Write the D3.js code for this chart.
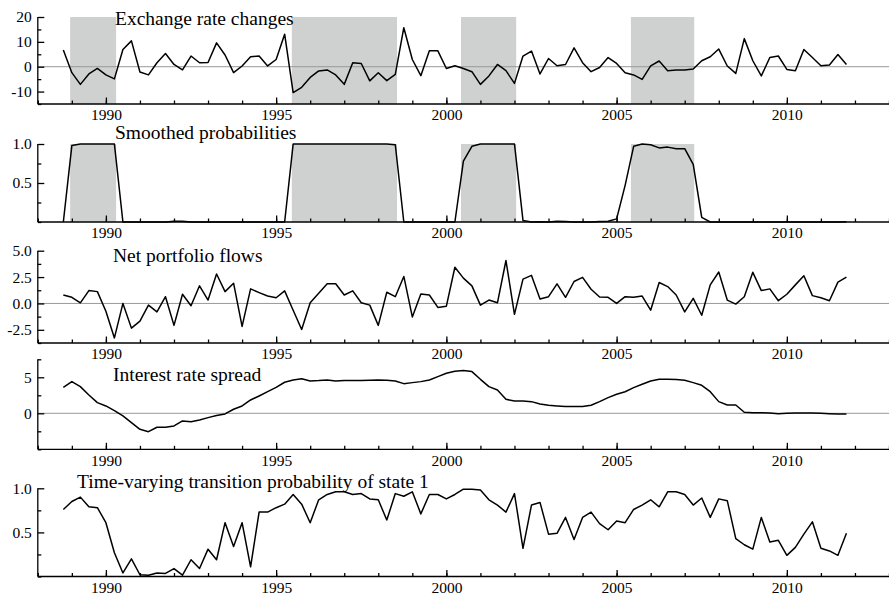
<!DOCTYPE html>
<html><head><meta charset="utf-8">
<script src="https://cdn.jsdelivr.net/npm/d3@7"></script>
<style>
html,body{margin:0;padding:0;background:#fff;}
svg{display:block;}
text{font-family:"Liberation Serif","Times New Roman",serif !important;fill:#000;}
</style></head>
<body><svg id="c" width="889" height="597"></svg>
<script>
// ---------- data ----------
const firstQuarter = 1988.75;   // 1988 Q4
const quarterStep = 0.25;
const exchangeRate = [6.7,-2.4,-7.1,-2.9,-0.7,-3.3,-4.9,6.9,10.4,-2.1,-3.3,1.6,5.3,0.9,-1.3,4.3,1.6,1.7,9.6,4.7,-2.4,0.3,4.0,4.3,0.3,2.9,13.1,-10.4,-8.3,-4.3,-1.7,-1.3,-3.3,-7.1,1.6,1.3,-5.7,-2.4,-5.6,-3.1,15.7,2.9,-3.6,6.4,6.4,-0.7,0.4,-0.7,-2.0,-7.1,-3.7,0.9,-1.6,-6.7,4.3,6.3,-2.9,3.3,0.4,0.9,7.6,1.6,-2.0,-0.3,3.7,1.3,-2.4,-3.3,-5.1,0.3,2.3,-1.6,-1.3,-1.3,-0.9,2.4,4.0,7.1,0.3,-2.7,11.3,2.4,-3.7,3.7,4.3,-1.1,-1.6,6.9,3.7,0.4,0.7,4.9,0.9];
const smoothedProb = [0,0.98,1,1,1,1,1,0,0,0,0,0,0,0.01,0.01,0,0,0,0,0,0,0,0,0,0,0,0,1,1,1,1,1,1,1,1,1,1,1,1,0.99,0,0,0,0,0,0,0,0.78,0.97,1,1,1,1,1,0.02,0,0.004,0,0.01,0.005,0,0,0,0.005,0.01,0.04,0.47,0.97,1,0.99,0.95,0.96,0.94,0.94,0.74,0.06,0,0,0,0,0,0,0,0,0,0,0,0,0,0,0,0,0.003];
const netPortfolio = [0.8,0.58,0.06,1.22,1.12,-0.74,-3.27,0,-2.34,-1.67,-0.16,-0.8,0.64,-2.08,0.87,-0.22,1.67,0.32,2.79,1.12,1.92,-2.18,1.38,1.03,0.7,0.54,1.19,-0.64,-2.47,0.06,0.96,1.86,1.86,0.8,1.19,0.06,-0.16,-2.08,1.06,0.64,2.56,-1.28,0.9,0.8,-0.38,-0.26,3.43,2.4,1.67,-0.16,0.32,0.06,4.07,-1.03,2.31,2.66,0.42,0.64,1.86,0.58,2.08,2.47,1.35,0.61,0.58,0,0.64,0.58,0.7,-0.64,1.99,1.6,0.8,-0.8,0.48,-1.12,1.76,2.98,0.32,-0.06,0.64,2.95,1.22,1.38,0.26,0.87,1.76,2.63,0.74,0.54,0.26,2.02,2.5];
const rateSpread = [3.61,4.4,3.7,2.55,1.48,1.02,0.37,-0.37,-1.3,-2.22,-2.55,-1.94,-1.94,-1.76,-1.06,-1.16,-0.93,-0.6,-0.32,-0.09,0.56,1.02,1.85,2.41,3.0,3.61,4.31,4.63,4.81,4.49,4.54,4.63,4.49,4.54,4.54,4.54,4.58,4.63,4.58,4.49,4.12,4.26,4.4,4.63,5.09,5.56,5.83,5.93,5.79,4.72,3.7,3.24,1.94,1.71,1.71,1.62,1.3,1.11,1.02,0.93,0.93,0.93,1.11,1.62,2.18,2.64,3.0,3.56,4.03,4.49,4.72,4.72,4.68,4.58,4.26,3.89,3.0,1.62,1.16,1.16,0.14,0.09,0.09,0.05,-0.05,0,0.05,0.05,0.05,0,-0.05,-0.09,-0.09];
const transProb = [0.76,0.85,0.9,0.79,0.78,0.61,0.27,0.04,0.2,0.02,0.015,0.04,0.035,0.09,0.015,0.19,0.09,0.31,0.19,0.61,0.34,0.61,0.11,0.73,0.73,0.78,0.82,0.93,0.82,0.61,0.87,0.93,0.96,0.96,0.93,0.94,0.88,0.87,0.64,0.94,0.91,0.96,0.71,0.93,0.93,0.88,0.93,0.99,0.99,0.98,0.87,0.81,0.73,0.94,0.32,0.81,0.84,0.48,0.49,0.67,0.42,0.67,0.73,0.6,0.53,0.63,0.61,0.76,0.81,0.87,0.79,0.96,0.96,0.93,0.81,0.89,0.67,0.88,0.86,0.43,0.36,0.31,0.67,0.39,0.41,0.24,0.33,0.48,0.62,0.32,0.29,0.24,0.49];
const regimes = [[1988.95,1990.3],[1995.46,1998.55],[2000.43,2002.05],[2005.42,2007.28]];
const xMajorTicks = [1990,1995,2000,2005,2010];
const xMinorTicks = d3.range(1988,2014,1);

const titles = ["Exchange rate changes","Smoothed probabilities","Net portfolio flows","Interest rate spread","Time-varying transition probability of state 1"];
const yMajor = [[20,10,0,-10],[1.0,0.5],[5.0,2.5,0.0,-2.5],[5,0],[1.0,0.5]];
const yMajorLabels = [["20","10","0","-10"],["1.0","0.5"],["5.0","2.5","0.0","-2.5"],["5","0"],["1.0","0.5"]];
const yMinor = [[15,5,-5,-15],[0.75,0.25,0],[3.75,1.25,-1.25,-3.75],[7.5,2.5,-2.5,-5],[0.75,0.25,0]];
const yDomains = [[-15,20],[0,1],[-3.75,5],[-5,7.5],[0,1]];

// ---------- layout ----------
const W = 889, left = 37.8;
const panels = [
  {top:17,   bottom:104,   zero:true,  shade:true,  titleX:115, titleY:25},
  {top:144,  bottom:222,   zero:false, shade:true,  titleX:115, titleY:139},
  {top:250.7,bottom:343,   zero:true,  shade:false, titleX:113, titleY:261.5},
  {top:359.3,bottom:449.3, zero:true,  shade:false, titleX:113, titleY:380.5},
  {top:488.3,bottom:576.5, zero:false, shade:false, titleX:77,  titleY:488}
];
const seriesList = [exchangeRate, smoothedProb, netPortfolio, rateSpread, transProb];

const svg = d3.select("#c");
const x = d3.scaleLinear().domain([1988,2013]).range([left, W]);
const dates = exchangeRate.map((_,i)=>firstQuarter + quarterStep*i);

panels.forEach((p,k)=>{
  const y = d3.scaleLinear().domain(yDomains[k]).range([p.bottom, p.top]);
  const g = svg.append("g");
  if (p.shade) {
    g.selectAll("rect.sh").data(regimes).join("rect")
      .attr("x", d=>x(d[0])).attr("width", d=>x(d[1])-x(d[0]))
      .attr("y", y(yDomains[k][1])).attr("height", y(yDomains[k][0])-y(yDomains[k][1]))
      .attr("fill","#cfd1d1");
  }
  if (p.zero) {
    g.append("line").attr("x1",left).attr("x2",W).attr("y1",y(0)).attr("y2",y(0))
      .attr("stroke","#999").attr("stroke-width",1);
  }
  // title
  g.append("text").attr("x",p.titleX).attr("y",p.titleY).style("font-size","19.5px").text(titles[k]);
  // series
  const line = d3.line().x((d,i)=>x(dates[i])).y(d=>y(d));
  g.append("path").datum(seriesList[k]).attr("d",line)
    .attr("fill","none").attr("stroke","#000").attr("stroke-width",1.5).attr("stroke-linejoin","round");
  // x axis
  const xa = g.append("g").attr("transform",`translate(0,${p.bottom})`)
    .call(d3.axisBottom(x).tickValues(xMinorTicks).tickSizeInner(-3.5).tickSizeOuter(0).tickFormat(""));
  xa.select(".domain").remove();
  const xb = g.append("g").attr("transform",`translate(0,${p.bottom})`)
    .call(d3.axisBottom(x).tickValues(xMajorTicks).tickSizeInner(-6.5).tickSizeOuter(0).tickPadding(3).tickFormat(d3.format("d")));
  xb.attr("font-family",null).attr("font-size",null);
  xb.select(".domain").attr("d",`M${left},0H${W}`);
  xb.selectAll("text").style("font-size","15.5px").attr("dy","1.05em").attr("y",0);
  // y axis
  const ya = g.append("g").attr("transform",`translate(${left},0)`)
    .call(d3.axisLeft(y).tickValues(yMinor[k]).tickSizeInner(-3.5).tickSizeOuter(0).tickFormat(""));
  ya.select(".domain").remove();
  const yb = g.append("g").attr("transform",`translate(${left},0)`)
    .call(d3.axisLeft(y).tickValues(yMajor[k]).tickSizeInner(-6.5).tickSizeOuter(0).tickPadding(6)
      .tickFormat((d,i)=>yMajorLabels[k][i]));
  yb.attr("font-family",null).attr("font-size",null);
  yb.select(".domain").attr("d",`M0,${p.bottom}V${p.top}`);
  yb.selectAll("text").style("font-size","15.5px");
  g.selectAll(".tick line, .domain").attr("stroke","#000").attr("stroke-width",1.3);
});
</script></body></html>
